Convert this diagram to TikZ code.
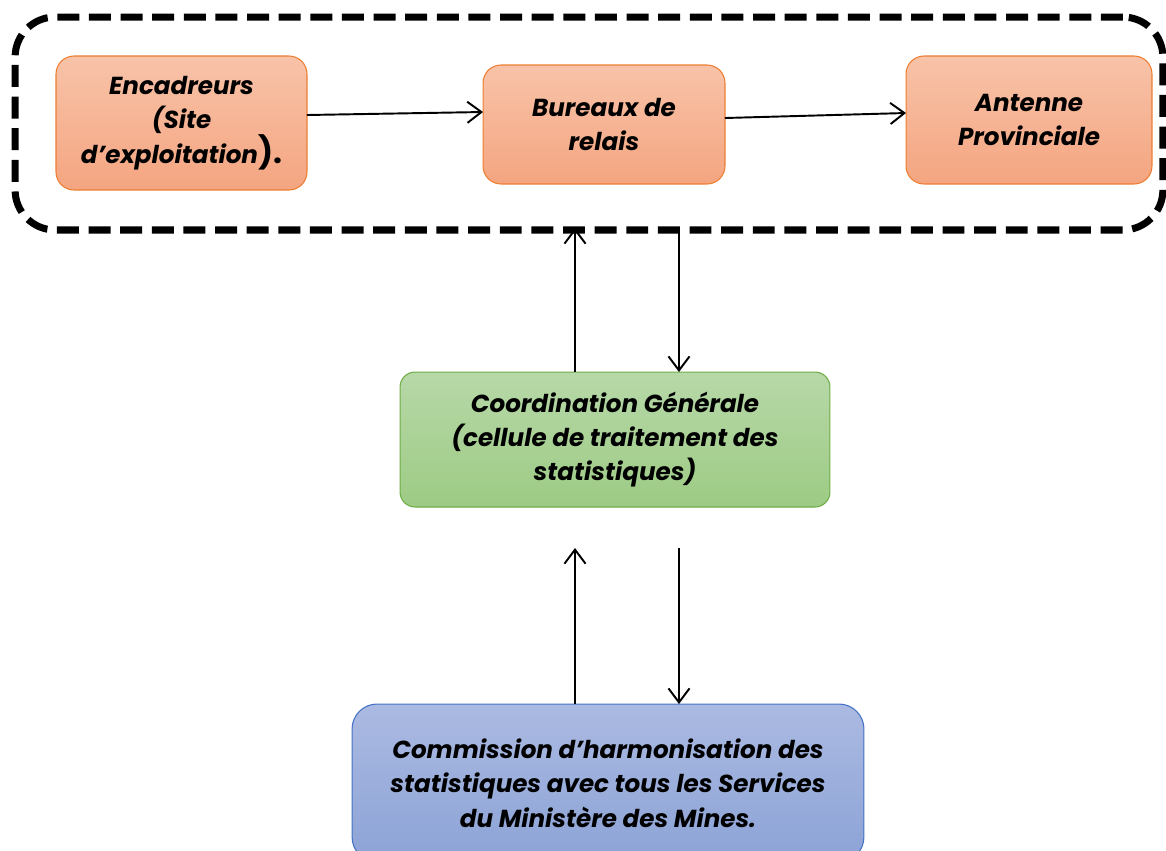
\documentclass[tikz,border=0pt]{standalone}
\usepackage{fontspec}
\setmainfont{Poppins}
\usetikzlibrary{arrows.meta,calc}
\definecolor{OrangeTopClr}{RGB}{248,195,169}
\definecolor{OrangeBotClr}{RGB}{244,165,128}
\definecolor{OrangeLineClr}{RGB}{237,125,49}
\definecolor{GreenTopClr}{RGB}{183,216,168}
\definecolor{GreenBotClr}{RGB}{157,203,132}
\definecolor{GreenLineClr}{RGB}{112,173,71}
\definecolor{BlueTopClr}{RGB}{171,186,226}
\definecolor{BlueBotClr}{RGB}{140,163,214}
\definecolor{BlueLineClr}{RGB}{68,114,196}

\tikzset{
  box/.style={draw, line width=0.6pt, align=center, inner sep=0pt, outer sep=0pt,
    font=\bfseries\itshape\fontsize{14}{19.5}\selectfont},
  orangebox/.style={box, rounded corners=0.36cm, draw=OrangeLineClr,
    top color=OrangeTopClr, bottom color=OrangeBotClr},
  greenbox/.style={box, rounded corners=0.3cm, draw=GreenLineClr,
    top color=GreenTopClr, bottom color=GreenBotClr},
  bluebox/.style={box, rounded corners=0.5cm, draw=BlueLineClr,
    top color=BlueTopClr, bottom color=BlueBotClr},
  groupframe/.style={draw, line width=4pt, rounded corners=0.8cm, inner sep=0pt,
    outer sep=0pt, dash pattern=on 12.5pt off 5.5pt},
  link/.style={-{Straight Barb[length=8pt,width=12pt,line width=1.1pt]}, line width=1.1pt}
}

\begin{document}
\begin{tikzpicture}[x=0.02cm,y=-0.02cm]
\useasboundingbox (0,0) rectangle (1166,850);
\clip (0,0) rectangle (1166,850);

% cadre du niveau provincial
\node[groupframe, minimum width=22.96cm, minimum height=4.26cm] (groupe) at (589,123.5) {};

\node[orangebox, minimum width=5.02cm, minimum height=2.68cm] (encad) at (181.5,123)
  {Encadreurs\\(Site\\d’exploitation{\fontsize{18}{19.5}\selectfont\upshape).}};
\node[orangebox, minimum width=4.84cm, minimum height=2.38cm] (bureau) at (604,124.5)
  {Bureaux de\\relais};
\node[orangebox, minimum width=4.92cm, minimum height=2.56cm] (antenne) at (1029,120)
  {Antenne\\Provinciale};

\node[greenbox, minimum width=8.6cm, minimum height=2.7cm] (coord) at (615,439.5)
  {Coordination Générale\\(cellule de traitement des\\statistiques)};

\node[bluebox, minimum width=10.24cm, minimum height=3.16cm] (commis) at (608,783)
  {Commission d’harmonisation des\\statistiques avec tous les Services\\du Ministère des Mines.};

\coordinate (midL) at (575,548);
\coordinate (midR) at (679,548);

% flux horizontal
\draw[link] ($(encad.east)+(0,-8)$) -- ($(bureau.west)+(0,-12.5)$);
\draw[link] ($(bureau.east)+(0,-6.5)$) -- ($(antenne.west)+(0,-7)$);

% echanges avec la coordination
\draw[link] ($(coord.north)+(-40,0)$) -- ($(groupe.south)+(-14,-2)$);
\draw[link] ($(groupe.south)+(90,-2)$) -- ($(coord.north)+(64,0)$);

\draw[link] ($(commis.north)+(-33,0)$) -- (midL);
\draw[link] (midR) -- ($(commis.north)+(71,0)$);

\end{tikzpicture}
\end{document}
